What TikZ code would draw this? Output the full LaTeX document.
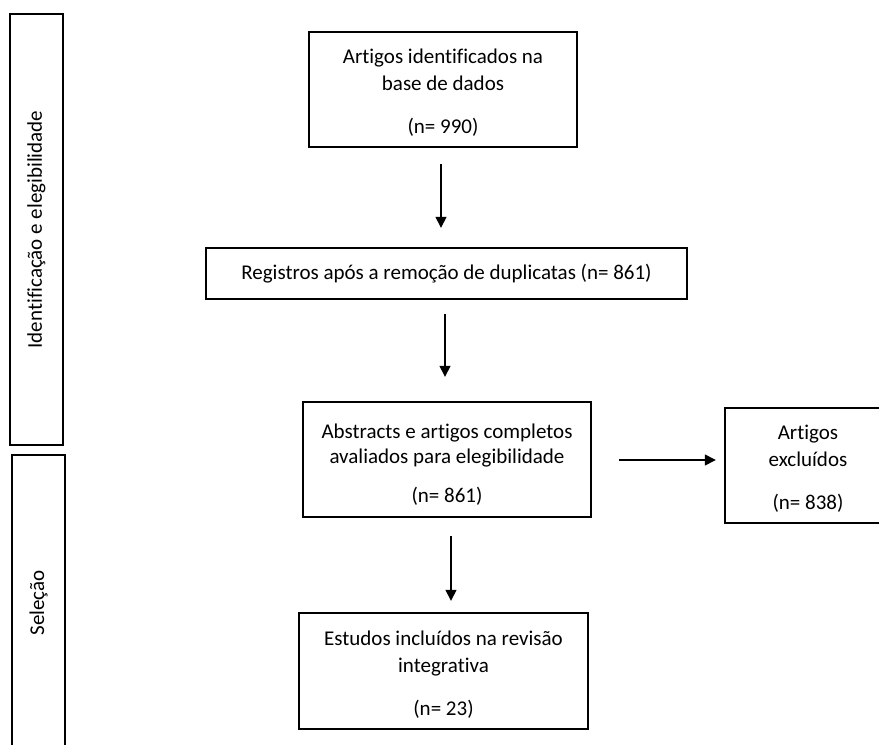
\documentclass[tikz,border=0pt]{standalone}
\usepackage{fontspec}
\setmainfont{Carlito}[Ligatures={NoCommon}]
\usetikzlibrary{arrows.meta}
\newcommand{\lowerby}[1]{\rule{0pt}{#1}}
\tikzset{
  box/.style={draw=black, line width=2.4pt, rectangle, inner sep=0pt, align=center,
    font=\fontsize{21}{27}\selectfont, text=black},
  bar/.style={draw=black, line width=2.4pt, rectangle, inner sep=0pt, rotate=90,
    font=\fontsize{21}{24}\selectfont, text=black},
  arr/.style={line width=1.4pt, -{Triangle[width=11pt,length=11pt]}}
}
\begin{document}
\begin{tikzpicture}[x=1pt,y=1pt]
\clip (0,0) rectangle (879,-745);
\fill[white] (0,0) rectangle (879,-745);
% side bars
\node[bar, minimum width=431pt, minimum height=53pt] (bar1) at (36.5,-229.5) {Identificação e elegibilidade};
\node[bar, minimum width=296pt, minimum height=53pt] (bar2) at (38.5,-603) {Seleção};
% boxes
\node[box, minimum width=268pt, minimum height=115pt] (b1) at (443,-89.5)
  {\lowerby{20pt}Artigos identificados na\\ base de dados\\[16pt] (n= 990)};
\node[box, minimum width=481pt, minimum height=51pt] (b2) at (446.5,-273.5)
  {Registros após a remoção de duplicatas (n= 861)};
\node[box, minimum width=288pt, minimum height=115pt, font=\fontsize{21}{24.5}\selectfont] (b3) at (447,-459.5)
  {\lowerby{25pt}Abstracts e artigos completos\\ avaliados para elegibilidade\\[15pt] (n= 861)};
\node[box, minimum width=166pt, minimum height=115pt] (b4) at (808,-465.5)
  {\lowerby{20pt}Artigos\\ excluídos\\[16pt] (n= 838)};
\node[box, minimum width=289pt, minimum height=116pt] (b5) at (443.5,-671)
  {\lowerby{22pt}Estudos incluídos na revisão\\ integrativa\\[16pt] (n= 23)};
% arrows
\draw[arr, shorten <=16pt, shorten >=19pt] ([xshift=-2pt]b1.south) -- ([xshift=-5.5pt]b2.north);
\draw[arr, shorten <=14pt, shorten >=24pt] ([xshift=-1.5pt]b2.south) -- ([xshift=-2pt]b3.north);
\draw[arr, shorten <=18pt, shorten >=11pt] ([xshift=4pt]b3.south) -- ([xshift=7.5pt]b5.north);
\draw[arr, shorten <=27pt, shorten >=8pt] ([yshift=-0.5pt]b3.east) -- ([yshift=5.5pt]b4.west);
\end{tikzpicture}
\end{document}
